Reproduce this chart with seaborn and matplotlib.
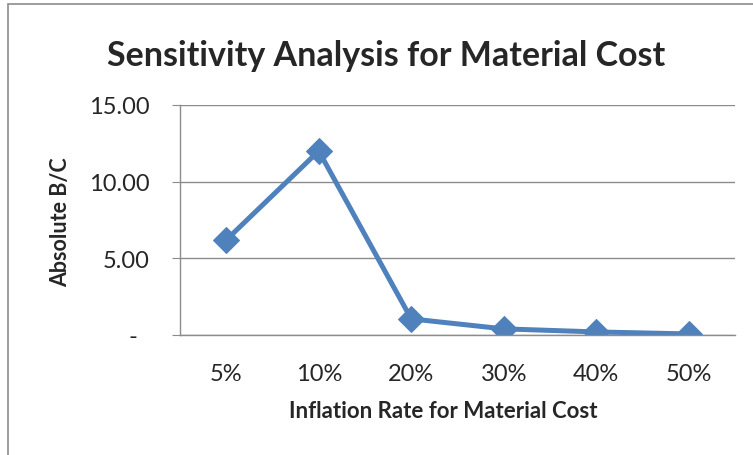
import matplotlib
matplotlib.use("Agg")
import matplotlib.pyplot as plt
import matplotlib.ticker as mticker
from matplotlib.patches import Rectangle
import seaborn as sns

# data
rates = ["5%", "10%", "20%", "30%", "40%", "50%"]
abs_bc = [6.2, 12.0, 1.05, 0.4, 0.2, 0.07]
y_ticks = [0, 5, 10, 15]

sns.set_style("white")
plt.rcParams["font.family"] = ["Lato", "DejaVu Sans"]

fig = plt.figure(figsize=(7.53, 4.56), dpi=100)
ax = fig.add_axes([180 / 753, 1 - 336 / 456, 555 / 753, 230 / 456])

sns.lineplot(x=rates, y=abs_bc, ax=ax, color="#4F81BD", linewidth=3.6,
             marker="D", markersize=13, markeredgecolor="#4F81BD", sort=False)

ax.set_xlim(-0.5, len(rates) - 0.5)
ax.set_ylim(0, 15)
ax.set_yticks(y_ticks)
ax.yaxis.set_major_formatter(mticker.FuncFormatter(
    lambda v, p: "-  " if v == 0 else f"{v:.2f}"))
ax.grid(axis="y", color="#8c8c8c", linewidth=1)
ax.set_axisbelow(True)

for s in ["top", "right"]:
    ax.spines[s].set_visible(False)
for s in ["left", "bottom"]:
    ax.spines[s].set_color("#8c8c8c")
    ax.spines[s].set_linewidth(1)

ax.tick_params(axis="y", direction="out", length=6, color="#8c8c8c",
               labelsize=17, pad=16, left=True)
ax.tick_params(axis="x", length=0, labelsize=17, pad=20)

ax.set_xlabel("Inflation Rate for Material Cost", fontsize=16, fontweight="bold")
ax.set_ylabel("Absolute B/C", fontsize=15.5, fontweight="bold")
ax.xaxis.set_label_coords((443 - 180) / 555, -(412 - 336) / 230)
ax.yaxis.set_label_coords(-(180 - 61) / 555, (336 - 222) / 230)
ax.xaxis.label.set_va("center")
ax.yaxis.label.set_va("center")

fig.text(386 / 753, 1 - 56 / 456, "Sensitivity Analysis for Material Cost",
         ha="center", va="center", fontsize=24.5, fontweight="bold")

# chart frame
fig.patches.append(Rectangle((8 / 753, -0.05), 1.1, 1 - 5 / 456 + 0.05,
                             transform=fig.transFigure, fill=False,
                             edgecolor="#8c8c8c", linewidth=1.2))

fig.savefig("out.png", dpi=100)
